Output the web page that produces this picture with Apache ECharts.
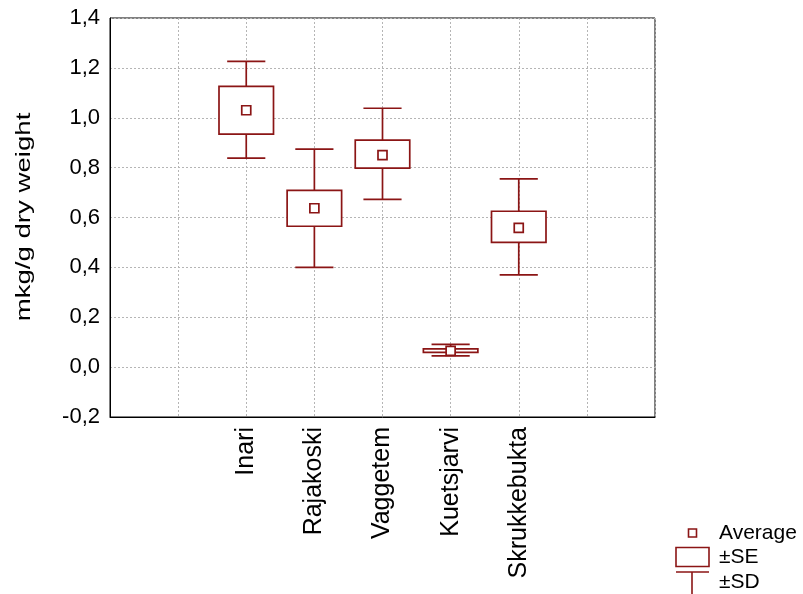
<!DOCTYPE html>
<html>
<head>
<meta charset="utf-8">
<script src="https://cdn.jsdelivr.net/npm/echarts@6/dist/echarts.min.js"></script>
<style>html,body{margin:0;padding:0;background:#fff}#c{width:803px;height:594px}</style>
</head>
<body>
<div id="c"></div>
<script>
var categories = ['', '', 'Inari', 'Rajakoski', 'Vaggetem', 'Kuetsjarvi', 'Skrukkebukta', '', ''];
var siteIndex = [2, 3, 4, 5, 6];
var means  = [1.030, 0.637, 0.850, 0.065, 0.558];
var seLow  = [0.934, 0.565, 0.798, 0.059, 0.500];
var seHigh = [1.126, 0.709, 0.910, 0.073, 0.625];
var sdLow  = [0.838, 0.400, 0.673, 0.045, 0.370];
var sdHigh = [1.226, 0.874, 1.038, 0.091, 0.755];
var yTicks = { min: -0.2, max: 1.4, interval: 0.2 };
var yTitle = 'mkg/g dry weight';
var legendLabels = ['Average', '±SE', '±SD'];

var COLOR = '#8b1515';
var FONT = 'Liberation Sans, Arial, sans-serif';

var data = siteIndex.map(function (ci, i) {
  return [ci, means[i], seLow[i], seHigh[i], sdLow[i], sdHigh[i]];
});

function renderItem(params, api) {
  var x = api.value(0);
  var pMean = api.coord([x, api.value(1)]);
  var pSeL = api.coord([x, api.value(2)]);
  var pSeH = api.coord([x, api.value(3)]);
  var pSdL = api.coord([x, api.value(4)]);
  var pSdH = api.coord([x, api.value(5)]);
  var band = api.size([1, 0])[0];
  var bw = band * 0.4;
  var cw = band * 0.28;
  var cx = pMean[0];
  var st = { stroke: COLOR, lineWidth: 1.7, fill: null };
  var sq = 4.5;
  return {
    type: 'group',
    children: [
      { type: 'line', shape: { x1: cx, y1: pSdH[1], x2: cx, y2: pSeH[1] }, style: st },
      { type: 'line', shape: { x1: cx, y1: pSeL[1], x2: cx, y2: pSdL[1] }, style: st },
      { type: 'line', shape: { x1: cx - cw, y1: pSdH[1], x2: cx + cw, y2: pSdH[1] }, style: st },
      { type: 'line', shape: { x1: cx - cw, y1: pSdL[1], x2: cx + cw, y2: pSdL[1] }, style: st },
      { type: 'rect', shape: { x: cx - bw, y: pSeH[1], width: 2 * bw, height: pSeL[1] - pSeH[1] }, style: { stroke: COLOR, lineWidth: 1.7, fill: '#fff' } },
      { type: 'rect', shape: { x: cx - sq, y: pMean[1] - sq, width: 2 * sq, height: 2 * sq }, style: { stroke: COLOR, lineWidth: 1.7, fill: '#fff' } }
    ]
  };
}

var chart = echarts.init(document.getElementById('c'));
chart.setOption({
  animation: false,
  backgroundColor: '#fff',
  grid: { left: 110, right: 148, top: 18, bottom: 177, show: true, borderColor: '#000', borderWidth: 1, containLabel: false },
  xAxis: {
    type: 'category',
    data: categories,
    boundaryGap: false,
    axisLine: { show: true, onZero: false, lineStyle: { color: '#000', width: 1 } },
    axisTick: { show: false },
    axisLabel: { interval: 0, rotate: 90, margin: 10, color: '#000', fontSize: 25, fontFamily: FONT },
    splitLine: { show: true, interval: 0, lineStyle: { color: '#b5b5b5', type: [2, 2], width: 1 } }
  },
  yAxis: {
    type: 'value',
    min: yTicks.min, max: yTicks.max, interval: yTicks.interval,
    axisLine: { show: true, onZero: false, lineStyle: { color: '#000', width: 1 } },
    axisTick: { show: false },
    axisLabel: { margin: 10, color: '#000', fontSize: 22, fontFamily: FONT,
      formatter: function (v) { return (Math.round(v * 10) / 10).toFixed(1).replace('.', ','); } },
    splitLine: { show: true, lineStyle: { color: '#b5b5b5', type: [2, 2], width: 1 } }
  },
  series: [{
    type: 'custom',
    renderItem: renderItem,
    data: data,
    encode: { x: 0, y: [1, 2, 3, 4, 5] },
    z: 10
  }],
  graphic: [
    { type: 'text', x: 24, y: 217, rotation: Math.PI / 2, scaleX: 1.38, scaleY: 1,
      style: { text: yTitle, fill: '#000', font: '20px ' + FONT, textAlign: 'center', textVerticalAlign: 'middle' } },
    { type: 'rect', shape: { x: 688.5, y: 529, width: 8, height: 8 }, style: { stroke: COLOR, lineWidth: 1.6, fill: '#fff' } },
    { type: 'text', x: 719, y: 533, style: { text: legendLabels[0], fill: '#000', font: '21px ' + FONT, textVerticalAlign: 'middle' } },
    { type: 'rect', shape: { x: 676, y: 547.5, width: 33, height: 19 }, style: { stroke: COLOR, lineWidth: 1.6, fill: '#fff' } },
    { type: 'text', x: 719, y: 557, style: { text: legendLabels[1], fill: '#000', font: '21px ' + FONT, textVerticalAlign: 'middle' } },
    { type: 'line', shape: { x1: 676, y1: 572, x2: 709, y2: 572 }, style: { stroke: COLOR, lineWidth: 1.6 } },
    { type: 'line', shape: { x1: 692, y1: 572, x2: 692, y2: 594 }, style: { stroke: COLOR, lineWidth: 1.6 } },
    { type: 'text', x: 719, y: 582, style: { text: legendLabels[2], fill: '#000', font: '21px ' + FONT, textVerticalAlign: 'middle' } }
  ]
});
</script>
</body>
</html>
